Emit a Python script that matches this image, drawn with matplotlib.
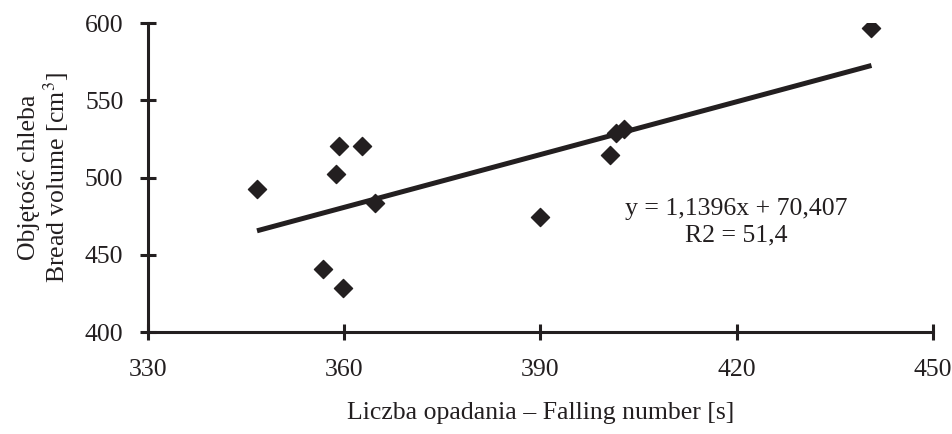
import matplotlib
matplotlib.use("Agg")
import numpy as np
import matplotlib.pyplot as plt

# Falling number [s] vs bread volume [cm3]
falling_number = [346.7, 356.8, 358.8, 359.3, 359.8, 362.8, 364.7, 389.9, 400.6, 401.6, 402.8, 440.6]
bread_volume = [492.4, 440.6, 502.5, 520.6, 428.7, 520.6, 483.3, 474.4, 514.6, 528.5, 531.5, 596.6]

# regression line as printed on the chart
slope = 1.1396
intercept = 70.407
fit_text = ["y = 1,1396x + 70,407", "R2 = 51,4"]

x_ticks = [330, 360, 390, 420, 450]
y_ticks = [400, 450, 500, 550, 600]

ink = "#231f20"
plt.rcParams["font.family"] = ["Liberation Serif", "DejaVu Serif"]
plt.rcParams["mathtext.fontset"] = "stix"

fig = plt.figure(figsize=(9.53, 4.34), dpi=100)
ax = fig.add_axes([0.155, 0.235, 0.824, 0.712])

ax.scatter(falling_number, bread_volume, marker="D", s=85, color=ink, zorder=3)

xl = np.array([min(falling_number), max(falling_number)])
ax.plot(xl, slope * xl + intercept, color=ink, lw=3.6, solid_capstyle="butt", zorder=2)

ax.set_xlim(330, 450)
ax.set_ylim(400, 600)
ax.set_xticks(x_ticks)
ax.set_yticks(y_ticks)
for s in ["top", "right"]:
    ax.spines[s].set_visible(False)
for s in ["left", "bottom"]:
    ax.spines[s].set_linewidth(2.2)
    ax.spines[s].set_color(ink)
ax.tick_params(direction="inout", length=11, width=2.2, color=ink, labelsize=18.5,
               labelcolor=ink)
ax.tick_params(axis="x", pad=14)
ax.tick_params(axis="y", pad=12)

ax.set_xlabel("Liczba opadania \u2013 Falling number [s]", fontsize=18.5, color=ink, labelpad=15)
ax.set_ylabel("Objętość chleba\nBread volume [cm$^3$]", fontsize=18.5, color=ink,
              labelpad=10, linespacing=1.05)

ax.text(0.75, 0.399, fit_text[0], transform=ax.transAxes, ha="center", va="center",
        fontsize=18.5, color=ink)
ax.text(0.75, 0.311, fit_text[1], transform=ax.transAxes, ha="center", va="center",
        fontsize=18.5, color=ink)

fig.savefig("out.png", dpi=100)
